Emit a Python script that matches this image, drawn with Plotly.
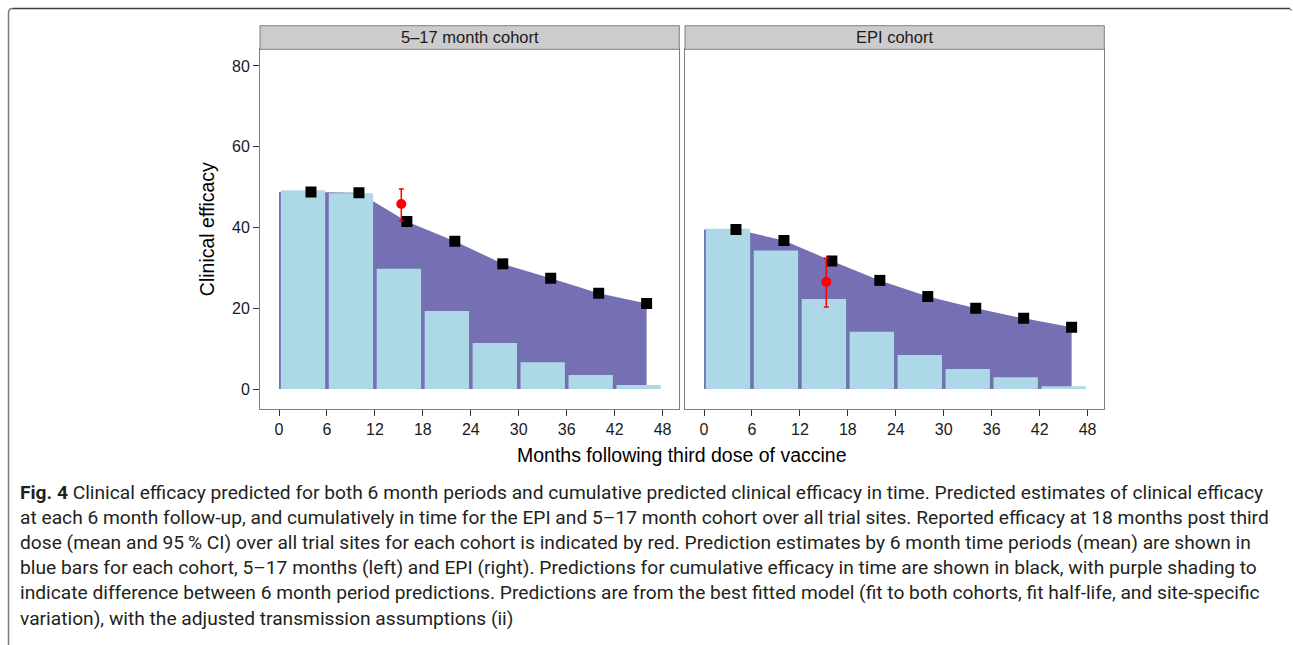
import plotly.graph_objects as go

# ---- data -------------------------------------------------------------
period_mid = [3, 9, 15, 21, 27, 33, 39, 45]          # 6-month period midpoints
cum_month = [4, 10, 16, 22, 28, 34, 40, 46]          # cumulative estimate positions

period_517 = [49.2, 48.5, 29.8, 19.3, 11.4, 6.6, 3.5, 1.0]
period_epi = [39.7, 34.3, 22.3, 14.2, 8.4, 4.95, 2.9, 0.7]

cum_517 = [48.8, 48.6, 41.5, 36.6, 31.0, 27.4, 23.7, 21.2]
cum_epi = [39.5, 36.8, 31.7, 26.9, 22.9, 20.0, 17.5, 15.3]

reported_month = 15.3
reported_517 = [45.8, 41.6, 49.5]   # mean, lower, upper
reported_epi = [26.5, 20.3, 32.4]

panel_titles = ["5\u201317 month cohort", "EPI cohort"]
x_ticks = [0, 6, 12, 18, 24, 30, 36, 42, 48]
y_ticks = [0, 20, 40, 60, 80]

caption_lines = [
    "<b>Fig. 4</b> Clinical efficacy predicted for both 6 month periods and cumulative predicted clinical efficacy in time. Predicted estimates of clinical efficacy",
    "at each 6 month follow-up, and cumulatively in time for the EPI and 5\u201317 month cohort over all trial sites. Reported efficacy at 18 months post third",
    "dose (mean and 95\u2009% CI) over all trial sites for each cohort is indicated by red. Prediction estimates by 6 month time periods (mean) are shown in",
    "blue bars for each cohort, 5\u201317 months (left) and EPI (right). Predictions for cumulative efficacy in time are shown in black, with purple shading to",
    "indicate difference between 6 month period predictions. Predictions are from the best fitted model (fit to both cohorts, fit half-life, and site-specific",
    "variation), with the adjusted transmission assumptions (ii)",
]

# ---- layout geometry (pixels) ----------------------------------------
W, H = 1293, 645
def px(v):
    return v / W
def py(v):
    return 1 - v / H

panel_x = [(260, 679.3), (685, 1104.3)]
panel_top, panel_bottom = 49.3, 409
strip_top = 25.7

PURPLE = "#7570B3"
LIGHTBLUE = "#ADD8E6"
GREY50 = "#7F7F7F"

fig = go.Figure()

# base axes (x, y / x2, y2) hold the shaded area; overlay axes (x3, y3 / x4, y4)
# hold bars and points so they are drawn on top of the shading
panels = [
    ("x", "y", "x3", "y3", period_517, cum_517, reported_517),
    ("x2", "y2", "x4", "y4", period_epi, cum_epi, reported_epi),
]

for xa, ya, xo, yo, period, cum, rep in panels:
    # shaded cumulative efficacy
    fig.add_trace(go.Scatter(
        x=[0] + cum_month, y=[cum[0]] + cum,
        mode="none", fill="tozeroy", fillcolor=PURPLE,
        xaxis=xa, yaxis=ya, hoverinfo="skip",
    ))
    # 6-month period predictions
    fig.add_trace(go.Bar(
        x=period_mid, y=period, width=5.55,
        marker=dict(color=LIGHTBLUE, line=dict(width=0)),
        xaxis=xo, yaxis=yo,
    ))
    # cumulative predictions
    fig.add_trace(go.Scatter(
        x=cum_month, y=cum, mode="markers",
        marker=dict(symbol="square", size=11, color="black"),
        xaxis=xo, yaxis=yo,
    ))
    # reported efficacy with 95% CI
    fig.add_trace(go.Scatter(
        x=[reported_month], y=[rep[0]], mode="markers",
        marker=dict(symbol="circle", size=10, color="#FF0000"),
        error_y=dict(type="data", array=[rep[2] - rep[0]],
                     arrayminus=[rep[0] - rep[1]],
                     color="#FF0000", thickness=1.5, width=2.5),
        xaxis=xo, yaxis=yo,
    ))

TICK_FONT = dict(family="Liberation Sans, Arial, sans-serif", size=16, color="#1a1a1a")
axis_common = dict(
    showgrid=False, zeroline=False,
    showline=True, mirror=True, linecolor=GREY50, linewidth=1,
    ticks="outside", ticklen=6, tickwidth=1, tickcolor="#333333",
    tickfont=TICK_FONT,
)
hidden_axis = dict(visible=False, showgrid=False, zeroline=False)

x_range = [-2.38, 50.09]
y_range = [-4.95, 84.12]
x_dom = [[px(a), px(b)] for a, b in panel_x]
y_dom = [py(panel_bottom), py(panel_top)]

fig.update_layout(
    width=W, height=H,
    margin=dict(l=0, r=0, t=0, b=0),
    paper_bgcolor="white", plot_bgcolor="white",
    showlegend=False,
    xaxis=dict(domain=x_dom[0], range=x_range, tickvals=x_ticks, anchor="y", **axis_common),
    xaxis2=dict(domain=x_dom[1], range=x_range, tickvals=x_ticks, anchor="y2", **axis_common),
    yaxis=dict(domain=y_dom, range=y_range, tickvals=y_ticks, anchor="x", **axis_common),
    yaxis2=dict(domain=y_dom, range=y_range, tickvals=y_ticks, anchor="x2",
                **{**axis_common, "ticks": "", "showticklabels": False}),
    xaxis3=dict(domain=x_dom[0], range=x_range, overlaying="x", anchor="y3", **hidden_axis),
    yaxis3=dict(domain=y_dom, range=y_range, overlaying="y", anchor="x3", **hidden_axis),
    xaxis4=dict(domain=x_dom[1], range=x_range, overlaying="x2", anchor="y4", **hidden_axis),
    yaxis4=dict(domain=y_dom, range=y_range, overlaying="y2", anchor="x4", **hidden_axis),
)

shapes = []
annotations = []

# facet strips
for (x0, x1), title in zip(panel_x, panel_titles):
    shapes.append(dict(type="rect", xref="paper", yref="paper",
                       x0=px(x0), x1=px(x1), y0=py(panel_top), y1=py(strip_top),
                       fillcolor="#CCCCCC", line=dict(color=GREY50, width=1)))
    annotations.append(dict(text=title, xref="paper", yref="paper",
                            x=px((x0 + x1) / 2), y=py((strip_top + panel_top) / 2),
                            xanchor="center", yanchor="middle", showarrow=False,
                            font=dict(family="Liberation Sans, Arial, sans-serif",
                                      size=16.5, color="#1a1a1a")))

# axis titles
TITLE_FONT = dict(family="Liberation Sans, Arial, sans-serif", size=19.5, color="black")
annotations.append(dict(text="Clinical efficacy", xref="paper", yref="paper",
                        x=px(207), y=py((panel_top + panel_bottom) / 2),
                        xanchor="center", yanchor="middle", textangle=-90,
                        showarrow=False, font=TITLE_FONT))
annotations.append(dict(text="Months following third dose of vaccine",
                        xref="paper", yref="paper",
                        x=px(682), y=py(455), xanchor="center", yanchor="middle",
                        showarrow=False, font=TITLE_FONT))

# caption
for i, line in enumerate(caption_lines):
    annotations.append(dict(text=line, xref="paper", yref="paper",
                            x=px(18), y=py(492 + i * 25.2),
                            xanchor="left", yanchor="middle", showarrow=False,
                            font=dict(family="Roboto, sans-serif", size=19.2,
                                      color="#231F20")))

# outer frame: top rule and left rule with rounded corner
shapes.append(dict(type="path", xref="paper", yref="paper",
                   path=f"M {px(8.5)},{py(645)} L {px(8.5)},{py(13)} "
                        f"Q {px(8.5)},{py(8.5)} {px(13)},{py(8.5)}",
                   line=dict(color="#7a7a7a", width=1.5)))
shapes.append(dict(type="line", xref="paper", yref="paper",
                   x0=px(13), x1=px(1290), y0=py(8.5), y1=py(8.5),
                   line=dict(color="#3c3c3c", width=1.5)))
shapes.append(dict(type="line", xref="paper", yref="paper",
                   x0=px(1290), x1=px(1291.5), y0=py(8.5), y1=py(10.5),
                   line=dict(color="#3c3c3c", width=1)))

fig.update_layout(shapes=shapes, annotations=annotations)

fig.write_html("out.html")
